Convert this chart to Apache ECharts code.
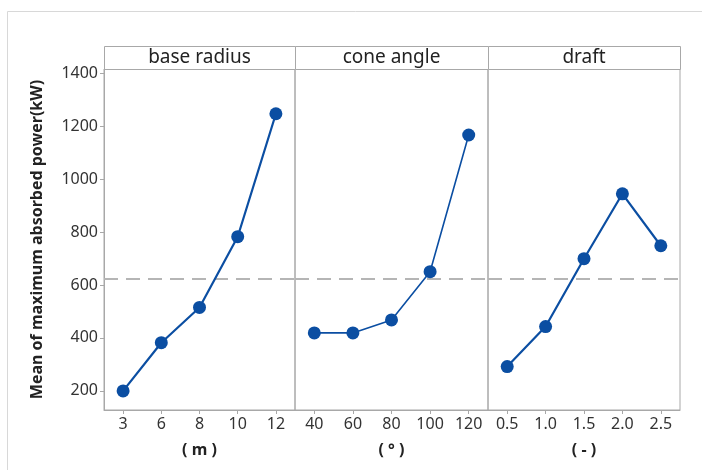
<!DOCTYPE html>
<html><head><meta charset="utf-8">
<script src="https://cdn.jsdelivr.net/npm/echarts@6/dist/echarts.min.js"></script>
<style>html,body{margin:0;padding:0;background:#fff}#c{width:702px;height:470px}</style>
</head><body><div id="c"></div>
<script>
const panelTitles = ['base radius', 'cone angle', 'draft'];
const unitLabels = ['( m )', '( ° )', '( - )'];
const baseRadiusCats = ['3', '6', '8', '10', '12'];
const coneAngleCats = ['40', '60', '80', '100', '120'];
const draftCats = ['0.5', '1.0', '1.5', '2.0', '2.5'];
const baseRadiusVals = [200, 382, 515, 782, 1246];
const coneAngleVals = [419, 419, 468, 650, 1166];
const draftVals = [292, 443, 699, 944, 748];
const yTicks = [200, 400, 600, 800, 1000, 1200, 1400];
const grandMean = 625;

const cats = [baseRadiusCats, coneAngleCats, draftCats];
const vals = [baseRadiusVals, coneAngleVals, draftVals];

const gridL = [104, 295, 488];
const gridW = [191, 193, 192];
const gridTop = 69, gridH = 341;
const font = '"Noto Sans", sans-serif';
const blue = '#0b4ea2';
const gray = '#a8a8a8';

const chart = echarts.init(document.getElementById('c'), null, {renderer: 'canvas'});
const grids = [], xAxes = [], yAxes = [], series = [], graphics = [];
graphics.push({type: 'rect', shape: {x: 7.5, y: 11.5, width: 720, height: 500}, style: {fill: 'none', stroke: '#d8d8d8', lineWidth: 1}, silent: true});
for (let i = 0; i < 3; i++) {
  grids.push({left: gridL[i], top: gridTop, width: gridW[i], height: gridH, show: true, borderColor: gray, borderWidth: 1, backgroundColor: 'transparent'});
  xAxes.push({
    type: 'category', gridIndex: i, data: cats[i], boundaryGap: true,
    axisLine: {show: true, lineStyle: {color: gray}},
    axisTick: {show: true, alignWithLabel: true, length: 4, lineStyle: {color: gray}},
    axisLabel: {color: '#333', fontSize: 16, fontFamily: font, margin: 6},
    name: unitLabels[i], nameLocation: 'middle', nameGap: 32,
    nameTextStyle: {fontSize: 16, fontWeight: 'bold', fontFamily: font, color: '#222'}
  });
  yAxes.push({
    type: 'value', gridIndex: i, min: 128, max: 1415,
    splitLine: {show: false},
    axisLine: {show: i === 0, lineStyle: {color: gray}},
    axisTick: {show: i === 0, length: 4, customValues: yTicks, lineStyle: {color: gray}},
    axisLabel: {show: i === 0, customValues: yTicks, formatter: v => String(v), color: '#333', fontSize: 16, fontFamily: font, margin: 6},
    name: i === 0 ? 'Mean of maximum absorbed power(kW)' : '',
    nameLocation: 'middle', nameGap: 59, nameRotate: 90,
    nameTextStyle: {fontSize: 16, fontWeight: 'bold', fontFamily: font, color: '#222'}
  });
  series.push({
    type: 'line', xAxisIndex: i, yAxisIndex: i, data: vals[i],
    symbol: 'circle', symbolSize: 13,
    lineStyle: {color: blue, width: i === 1 ? 1.6 : 2.2},
    itemStyle: {color: blue},
    z: 5,
    markLine: {
      silent: true, symbol: 'none', label: {show: false},
      lineStyle: {color: '#b5b5b5', type: [14, 8], width: 2},
      data: [{yAxis: grandMean}], z: 2
    }
  });
  graphics.push({type: 'rect', shape: {x: gridL[i] + 0.5, y: 46.5, width: gridW[i], height: 23}, style: {fill: '#fff', stroke: gray, lineWidth: 1}, silent: true});
  graphics.push({type: 'text', x: gridL[i] + gridW[i] / 2, y: 58, style: {text: panelTitles[i], fontSize: 19, fontFamily: font, fill: '#222', align: 'center', verticalAlign: 'middle'}, silent: true});
}
chart.setOption({
  animation: false,
  backgroundColor: '#fff',
  grid: grids, xAxis: xAxes, yAxis: yAxes, series: series,
  graphic: graphics
});
</script></body></html>
